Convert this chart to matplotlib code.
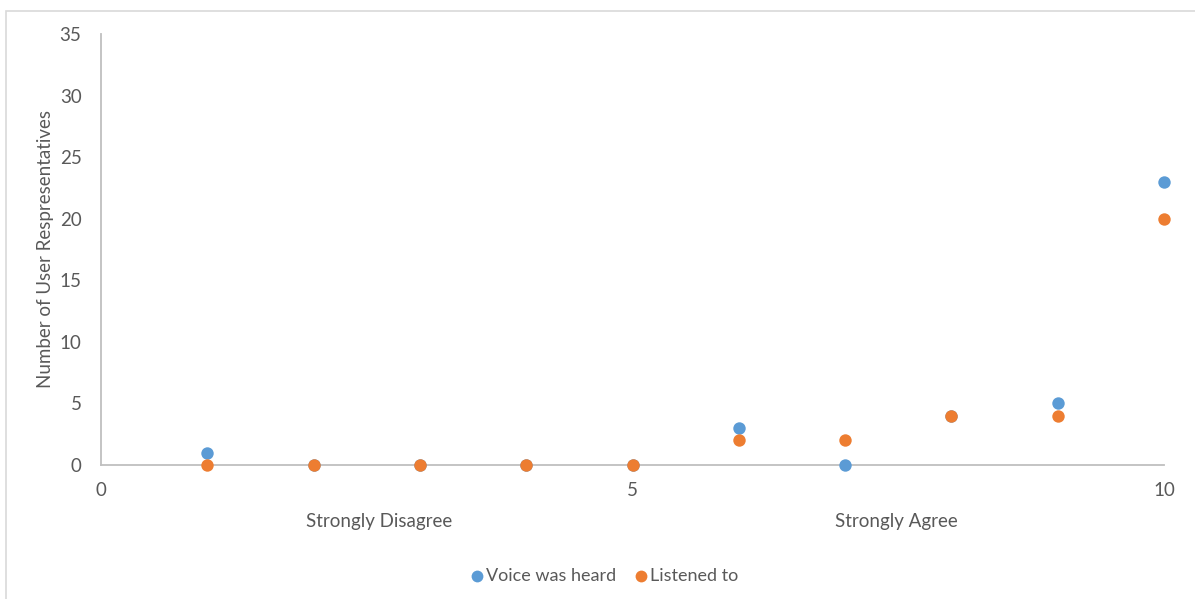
import matplotlib.pyplot as plt
from matplotlib.patches import Rectangle

# данные
scores = [1, 2, 3, 4, 5, 6, 7, 8, 9, 10]
voice_heard = [1, 0, 0, 0, 0, 3, 0, 4, 5, 23]
listened_to = [0, 0, 0, 0, 0, 2, 2, 4, 4, 20]
x_ticks = [0, 5, 10]
y_ticks = [0, 5, 10, 15, 20, 25, 30, 35]

blue = '#5B9BD5'
orange = '#ED7D31'
grey_text = '#595959'
axis_grey = '#BFBFBF'
fs = 13.5

plt.rcParams['font.family'] = ['Lato', 'DejaVu Sans']

fig = plt.figure(figsize=(11.95, 5.99), dpi=100)
fig.patches.append(Rectangle((6 / 1195, -0.01), 1.02, 1 - 11 / 599 + 0.01,
                             transform=fig.transFigure, fill=False,
                             edgecolor='#D9D9D9', linewidth=1.2))

ax = fig.add_axes([101 / 1195, 1 - 465 / 599, 1063 / 1195, 431 / 599])
ax.scatter(scores, voice_heard, s=80, color=blue, label='Voice was heard',
           clip_on=False, zorder=3, linewidths=0)
ax.scatter(scores, listened_to, s=80, color=orange, label='Listened to',
           clip_on=False, zorder=4, linewidths=0)

ax.set_xlim(0, 10)
ax.set_ylim(0, 35)
ax.set_xticks(x_ticks)
ax.set_yticks(y_ticks)
for side in ['top', 'right']:
    ax.spines[side].set_visible(False)
for side in ['left', 'bottom']:
    ax.spines[side].set_color(axis_grey)
    ax.spines[side].set_linewidth(1.3)
ax.tick_params(length=0, labelsize=fs, labelcolor=grey_text)
ax.tick_params(axis='x', pad=12)
ax.tick_params(axis='y', pad=14)

ax.set_ylabel('Number of User Respresentatives', fontsize=fs,
              color=grey_text, labelpad=4)

ax.text(0.2615, -0.13, 'Strongly Disagree', transform=ax.transAxes,
        ha='center', va='center', fontsize=fs, color=grey_text)
ax.text(0.748, -0.13, 'Strongly Agree', transform=ax.transAxes,
        ha='center', va='center', fontsize=fs, color=grey_text)

leg = ax.legend(loc='center', bbox_to_anchor=(604 / 1195, 1 - 576 / 599),
                bbox_transform=fig.transFigure, ncol=2, frameon=False,
                fontsize=13, handlelength=0.8, handletextpad=0.1,
                columnspacing=1.0, markerscale=0.95)
for t in leg.get_texts():
    t.set_color(grey_text)

plt.savefig('out.png', dpi=100)
